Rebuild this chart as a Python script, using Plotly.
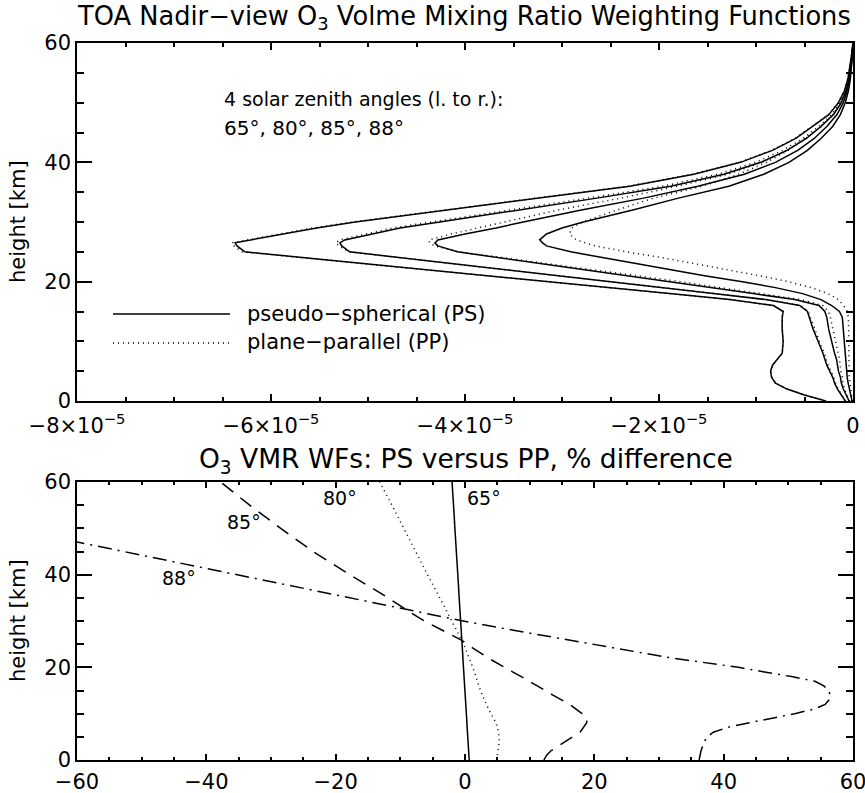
import plotly.graph_objects as go

W, H = 865, 793
FONT = "DejaVu Sans"

# ---------------- top panel data (values in units of 1e-5) ----------------
heights = [0, 1, 2, 3, 4, 5, 6, 7, 8, 10, 12, 14, 15, 16, 17, 18, 19, 20, 21, 22, 23, 24, 25, 26,
           26.5, 27, 28, 29, 30, 32, 34, 36, 38, 40, 42, 44, 46, 48, 50, 52, 54, 56, 58, 60]

ps65 = [-0.28, -0.50, -0.68, -0.80, -0.84, -0.85, -0.83, -0.78, -0.73, -0.72, -0.73, -0.73, -0.72, -0.82,
        -1.27, -1.89, -2.52, -3.14, -3.77, -4.40, -5.02, -5.65, -6.27, -6.35, -6.37, -6.21, -5.87, -5.53,
        -5.13, -4.18, -3.22, -2.30, -1.64, -1.16, -0.83, -0.59, -0.42, -0.25, -0.15, -0.088, -0.052,
        -0.03, -0.015, 0.0]
pp65 = [-0.278, -0.497, -0.676, -0.796, -0.836, -0.846, -0.827, -0.777, -0.728, -0.719, -0.729, -0.73,
        -0.72, -0.82, -1.271, -1.893, -2.525, -3.148, -3.781, -4.415, -5.039, -5.674, -6.299, -6.382,
        -6.404, -6.244, -5.905, -5.565, -5.165, -4.212, -3.248, -2.322, -1.657, -1.173, -0.840, -0.598,
        -0.426, -0.254, -0.152, -0.089, -0.053, -0.031, -0.015, 0.0]

ps80 = [-0.08, -0.12, -0.16, -0.19, -0.21, -0.24, -0.27, -0.29, -0.31, -0.36, -0.41, -0.45, -0.47, -0.55,
        -0.90, -1.44, -1.97, -2.51, -3.05, -3.58, -4.12, -4.65, -5.19, -5.27, -5.29, -5.24, -4.96, -4.67,
        -4.26, -3.43, -2.64, -1.88, -1.33, -0.95, -0.68, -0.48, -0.33, -0.20, -0.12, -0.07, -0.04, -0.02,
        -0.01, 0.0]
pp80 = [-0.076, -0.114, -0.152, -0.180, -0.199, -0.227, -0.256, -0.276, -0.295, -0.346, -0.396, -0.438,
        -0.459, -0.538, -0.884, -1.417, -1.944, -2.480, -3.023, -3.559, -4.108, -4.65, -5.200, -5.302,
        -5.332, -5.287, -5.024, -4.749, -4.345, -3.526, -2.732, -1.961, -1.397, -1.005, -0.724, -0.515,
        -0.356, -0.217, -0.131, -0.077, -0.044, -0.022, -0.011, 0.0]

ps85 = [-0.04, -0.07, -0.10, -0.12, -0.13, -0.15, -0.16, -0.17, -0.19, -0.22, -0.25, -0.27, -0.29, -0.35,
        -0.60, -1.03, -1.47, -1.90, -2.34, -2.77, -3.21, -3.65, -4.08, -4.28, -4.31, -4.28, -4.00, -3.68,
        -3.40, -2.80, -2.16, -1.60, -1.12, -0.80, -0.57, -0.40, -0.27, -0.165, -0.10, -0.06, -0.035,
        -0.018, -0.008, 0.0]
pp85 = [-0.035, -0.061, -0.087, -0.103, -0.110, -0.125, -0.131, -0.139, -0.154, -0.180, -0.210, -0.233,
        -0.253, -0.311, -0.540, -0.940, -1.361, -1.784, -2.228, -2.670, -3.130, -3.599, -4.064, -4.310,
        -4.366, -4.370, -4.140, -3.860, -3.614, -3.041, -2.393, -1.808, -1.292, -0.942, -0.685, -0.490,
        -0.336, -0.209, -0.129, -0.078, -0.046, -0.024, -0.011, 0.0]

ps88 = [-0.01, -0.025, -0.04, -0.05, -0.06, -0.065, -0.07, -0.075, -0.08, -0.09, -0.10, -0.11, -0.14,
        -0.22, -0.33, -0.52, -0.80, -1.14, -1.53, -1.89, -2.23, -2.57, -2.91, -3.16, -3.20, -3.23, -3.16,
        -3.00, -2.78, -2.27, -1.80, -1.28, -0.92, -0.66, -0.47, -0.33, -0.21, -0.13, -0.08, -0.047,
        -0.027, -0.014, -0.006, 0.0]
pp88 = [-0.0064, -0.016, -0.025, -0.032, -0.038, -0.041, -0.043, -0.044, -0.045, -0.044, -0.045, -0.048,
        -0.061, -0.097, -0.152, -0.257, -0.430, -0.667, -0.967, -1.289, -1.610, -1.958, -2.334, -2.661,
        -2.758, -2.852, -2.923, -2.898, -2.788, -2.436, -2.057, -1.553, -1.180, -0.893, -0.668, -0.492,
        -0.328, -0.212, -0.136, -0.083, -0.050, -0.027, -0.012, 0.0]

x_top_ticks = [-8e-5, -6e-5, -4e-5, -2e-5, 0]
x_top_labels = ["\u22128\u00d710<sup>\u22125</sup>", "\u22126\u00d710<sup>\u22125</sup>",
                "\u22124\u00d710<sup>\u22125</sup>", "\u22122\u00d710<sup>\u22125</sup>", "0"]

# ---------------- bottom panel data (% difference) ----------------
h_d65 = [0, 10, 20, 30, 40, 50, 60]
d65 = [0.65, 0.2, -0.25, -0.7, -1.1, -1.55, -2.0]

h_d80 = [0, 2, 4, 6, 8, 10, 12, 15, 20, 25, 30, 35, 40, 45, 50, 55, 60]
d80 = [4.9, 5.1, 5.3, 5.2, 4.8, 4.0, 3.3, 2.4, 1.2, -0.2, -2.0, -3.9, -5.8, -7.6, -9.5, -11.3, -13.2]

h_d85 = [0, 1, 2, 4, 6, 8, 9, 10, 12, 14, 16, 18, 20, 22, 24, 26, 28, 30, 32, 35, 40, 45, 50, 55, 60]
d85 = [12.2, 12.6, 13.3, 15.6, 17.8, 18.8, 18.9, 18.1, 16.2, 13.6, 11.2, 8.7, 6.1, 3.6, 1.4, -0.7, -3.5,
       -6.3, -8.6, -11.9, -17.8, -23.5, -28.5, -33.3, -37.8]

h_d88 = [0, 2, 4, 5, 6, 7, 8, 9, 10, 11, 12, 13, 14, 15, 16, 17, 18, 19, 20, 22, 24, 26, 28, 30, 35, 40,
         45, 50, 55, 60]
d88 = [36.2, 36.5, 37.0, 37.5, 38.4, 40.5, 43.8, 47.6, 51.0, 54.0, 55.7, 56.3, 56.5, 56.2, 55.5, 54.1,
       50.5, 46.3, 42.3, 32.0, 23.7, 15.8, 7.5, -0.3, -17.8, -35.3, -52.8, -70.3, -87.8, -105.3]

x_bot_ticks = [-60, -40, -20, 0, 20, 40, 60]
x_bot_labels = ["\u221260", "\u221240", "\u221220", "0", "20", "40", "60"]


def xp(px):
    return px / W


def yp(py):
    return 1 - py / H


fig = go.Figure()

SOLID = dict(color="black", width=1.5)
DOTTED = dict(color="black", width=1.5, dash="1px,4px")

for ps, pp in [(ps65, pp65), (ps80, pp80), (ps85, pp85), (ps88, pp88)]:
    fig.add_trace(go.Scatter(x=[v * 1e-5 for v in pp], y=heights, mode="lines", line=DOTTED,
                             xaxis="x", yaxis="y", showlegend=False, hoverinfo="skip"))
    fig.add_trace(go.Scatter(x=[v * 1e-5 for v in ps], y=heights, mode="lines", line=SOLID,
                             xaxis="x", yaxis="y", showlegend=False, hoverinfo="skip"))

fig.add_trace(go.Scatter(x=d65, y=h_d65, mode="lines", line=dict(color="black", width=1.5),
                         xaxis="x2", yaxis="y2", showlegend=False))
fig.add_trace(go.Scatter(x=d80, y=h_d80, mode="lines", line=dict(color="black", width=1.5, dash="1px,4px"),
                         xaxis="x2", yaxis="y2", showlegend=False))
fig.add_trace(go.Scatter(x=d85, y=h_d85, mode="lines", line=dict(color="black", width=1.5, dash="14px,9px"),
                         xaxis="x2", yaxis="y2", showlegend=False))
fig.add_trace(go.Scatter(x=d88, y=h_d88, mode="lines",
                         line=dict(color="black", width=1.5, dash="14px,6px,2px,6px"),
                         xaxis="x2", yaxis="y2", showlegend=False))

tickfont = dict(family=FONT, size=21, color="black")
base = dict(showline=True, linecolor="black", linewidth=1.5, mirror="allticks", ticks="inside",
            tickcolor="black", tickwidth=1.5, showgrid=False, zeroline=False, tickfont=tickfont,
            automargin=False, ticklabeloverflow="allow")

xdom = [xp(77), xp(853)]
fig.update_layout(
    width=W, height=H, margin=dict(l=0, r=0, t=0, b=0, autoexpand=False),
    paper_bgcolor="white", plot_bgcolor="white",
    xaxis=dict(base, domain=xdom, anchor="y", range=[-8e-5, 0], tickvals=x_top_ticks,
               ticktext=x_top_labels, ticklen=7, ticklabelstandoff=5,
               minor=dict(dtick=0.5e-5, tick0=0, ticklen=4, ticks="inside", tickcolor="black", tickwidth=1.5)),
    yaxis=dict(base, domain=[yp(401), yp(43)], anchor="x", range=[0, 60], tickvals=[0, 20, 40, 60],
               ticklen=15,
               minor=dict(dtick=5, tick0=0, ticklen=7, ticks="inside", tickcolor="black", tickwidth=1.5)),
    xaxis2=dict(base, domain=xdom, anchor="y2", range=[-60, 60], tickvals=x_bot_ticks,
                ticktext=x_bot_labels, ticklen=6, ticklabelstandoff=2,
                minor=dict(dtick=5, tick0=0, ticklen=3, ticks="inside", tickcolor="black", tickwidth=1.5)),
    yaxis2=dict(base, domain=[yp(760), yp(482)], anchor="x2", range=[0, 60], tickvals=[0, 20, 40, 60],
                ticklen=15,
                minor=dict(dtick=5, tick0=0, ticklen=7, ticks="inside", tickcolor="black", tickwidth=1.5)),
)

ann = []


def text(px, py, s, size, xanchor="center", angle=0):
    ann.append(dict(x=xp(px), y=yp(py), xref="paper", yref="paper", text=s, showarrow=False,
                    xanchor=xanchor, yanchor="middle", textangle=angle,
                    font=dict(family=FONT, size=size, color="black")))


text(464, 18, "TOA Nadir\u2212view O<sub>3</sub> Volme Mixing Ratio Weighting Functions", 25.7)
text(466, 461, "O<sub>3</sub> VMR WFs: PS versus PP, % difference", 26.5)
text(18, 222, "height [km]", 21, angle=-90)
text(18, 621, "height [km]", 21, angle=-90)
text(222, 99, "4 solar zenith angles (l. to r.):", 19, xanchor="left")
text(222, 128, "65\u00b0, 80\u00b0, 85\u00b0, 88\u00b0", 20, xanchor="left")
text(245, 314, "pseudo\u2212spherical (PS)", 21, xanchor="left")
text(245, 342, "plane\u2212parallel (PP)", 21, xanchor="left")
text(340, 498, "80\u00b0", 19)
text(484, 498, "65\u00b0", 19)
text(244, 522, "85\u00b0", 19)
text(179, 578, "88\u00b0", 19)
fig.update_layout(annotations=ann)

fig.update_layout(shapes=[
    dict(type="line", xref="paper", yref="paper", x0=xp(113), x1=xp(230), y0=yp(314), y1=yp(314),
         line=dict(color="black", width=1.5)),
    dict(type="line", xref="paper", yref="paper", x0=xp(113), x1=xp(230), y0=yp(343), y1=yp(343),
         line=dict(color="black", width=1.5, dash="1px,4px")),
])

fig.write_html("out.html")
